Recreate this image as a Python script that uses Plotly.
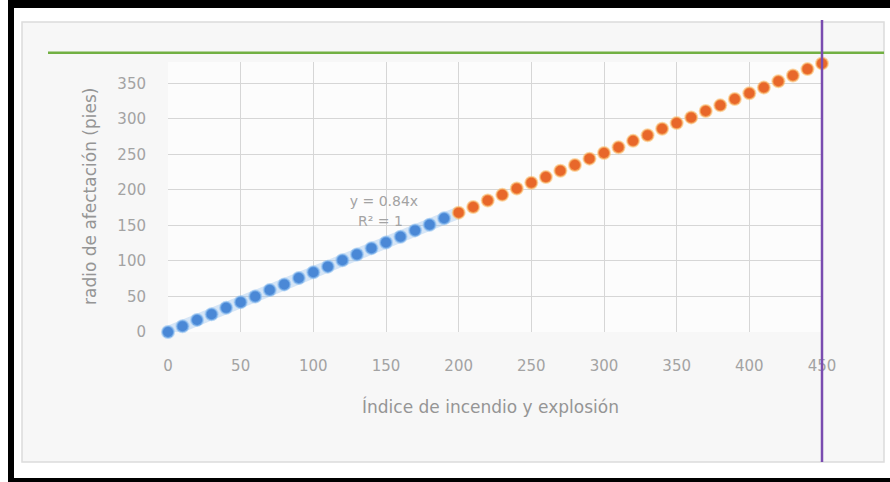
import plotly.graph_objects as go

# ---- data ----
blue_x = [0, 10, 20, 30, 40, 50, 60, 70, 80, 90, 100, 110, 120, 130, 140, 150, 160, 170, 180, 190]
blue_y = [0, 8, 17, 25, 34, 42, 50, 59, 67, 76, 84, 92, 101, 109, 118, 126, 134, 143, 151, 160]
orange_x = [200, 210, 220, 230, 240, 250, 260, 270, 280, 290, 300, 310, 320, 330, 340, 350,
            360, 370, 380, 390, 400, 410, 420, 430, 440, 450]
orange_y = [168, 176, 185, 193, 202, 210, 218, 227, 235, 244, 252, 260, 269, 277, 286, 294,
            302, 311, 319, 328, 336, 344, 353, 361, 370, 378]
trend_x = [0, 200]
trend_y = [0, 168]
limit_y = 393      # green horizontal line
limit_x = 450      # purple vertical line
x_ticks = [0, 50, 100, 150, 200, 250, 300, 350, 400, 450]
y_ticks = [0, 50, 100, 150, 200, 250, 300, 350]
eq_text = "y = 0.84x"
r2_text = "R² = 1"
x_title = "Índice de incendio y explosión"
y_title = "radio de afectación (pies)"

X_MAX, Y_MAX = 450, 380

W, H = 890, 482
L, R, T, B = 168, 68, 62, 150
PW, PH = W - L - R, H - T - B


def px(xp):
    return (xp - L) / PW


def py(yp):
    return (H - B - yp) / PH


FONT = "DejaVu Sans"
GREY = "#a3a3a3"
TGREY = "#959595"

fig = go.Figure()

# equation labels (drawn first so the dots cover part of them, as in the reference)
fig.add_trace(go.Scatter(x=[148.6], y=[181.6], mode="text", text=[eq_text],
                         textposition="middle center",
                         textfont=dict(family=FONT, size=14, color="#a3a3a3"),
                         hoverinfo="skip", showlegend=False))
fig.add_trace(go.Scatter(x=[130.7], y=[154.8], mode="text", text=[r2_text],
                         textposition="middle right",
                         textfont=dict(family=FONT, size=14, color="#a3a3a3"),
                         hoverinfo="skip", showlegend=False))

# trendline glow
fig.add_trace(go.Scatter(x=trend_x, y=trend_y, mode="lines",
                         line=dict(color="rgba(140,185,235,0.35)", width=12),
                         hoverinfo="skip", showlegend=False))

fig.add_trace(go.Scatter(x=blue_x, y=blue_y, mode="markers", cliponaxis=False,
                         marker=dict(size=12, color="#4a88d6",
                                     line=dict(color="rgba(140,190,240,0.6)", width=2)),
                         showlegend=False))
fig.add_trace(go.Scatter(x=orange_x, y=orange_y, mode="markers", cliponaxis=False,
                         marker=dict(size=12, color="#e8672a",
                                     line=dict(color="rgba(250,190,110,0.6)", width=2)),
                         showlegend=False))

shapes = []
# light panel
shapes.append(dict(type="rect", xref="paper", yref="paper",
                   x0=px(22), x1=px(884), y0=py(462), y1=py(22),
                   fillcolor="#f7f7f7", line=dict(color="#dcdcdc", width=1.5), layer="below"))
# white plot area on top of the panel
shapes.append(dict(type="rect", xref="paper", yref="paper",
                   x0=0, x1=1, y0=0, y1=1,
                   fillcolor="#fcfcfc", line=dict(width=0), layer="below"))
# black frame pieces
for (x0, x1, y0, y1) in [(8, 890, 0, 8), (8, 14, 0, 482), (8, 890, 478, 482)]:
    shapes.append(dict(type="rect", xref="paper", yref="paper",
                       x0=px(x0), x1=px(x1), y0=py(y1), y1=py(y0),
                       fillcolor="black", line=dict(width=0), layer="below"))
# green horizontal line
shapes.append(dict(type="line", xref="paper", yref="paper",
                   x0=px(48), x1=px(884), y0=limit_y / Y_MAX, y1=limit_y / Y_MAX,
                   line=dict(color="#72b043", width=2.5)))
# purple vertical line
shapes.append(dict(type="line", xref="paper", yref="paper",
                   x0=limit_x / X_MAX, x1=limit_x / X_MAX, y0=py(462), y1=py(20),
                   line=dict(color="#7a4cb0", width=2.5)))

fig.update_layout(
    width=W, height=H,
    margin=dict(l=L, r=R, t=T, b=B),
    paper_bgcolor="white",
    plot_bgcolor="white",
    shapes=shapes,
    font=dict(family=FONT, color=GREY),
    xaxis=dict(range=[0, X_MAX], tickvals=x_ticks, showgrid=True, gridcolor="#d6d6d6",
               gridwidth=1, zeroline=False, showline=False,
               tickfont=dict(family=FONT, size=15, color=GREY),
               ticks="outside", ticklen=20, tickcolor="rgba(0,0,0,0)"),
    yaxis=dict(range=[0, Y_MAX], tickvals=y_ticks, showgrid=True, gridcolor="#d6d6d6",
               gridwidth=1, zeroline=False, showline=False,
               tickfont=dict(family=FONT, size=15, color=GREY),
               ticks="outside", ticklen=18, tickcolor="rgba(0,0,0,0)"),
    annotations=[
        dict(text=x_title, xref="paper", yref="paper", x=px(490), y=py(406),
             showarrow=False, font=dict(family=FONT, size=17, color=TGREY),
             xanchor="center", yanchor="middle"),
        dict(text=y_title, xref="paper", yref="paper", x=px(90), y=py(197),
             showarrow=False, textangle=-90, font=dict(family=FONT, size=17, color=TGREY),
             xanchor="center", yanchor="middle"),
    ],
)

fig.write_html("out.html", config={"displayModeBar": False},
               post_script="document.body.style.margin='0';document.body.style.padding='0';"
                           "document.body.style.overflow='hidden';")
